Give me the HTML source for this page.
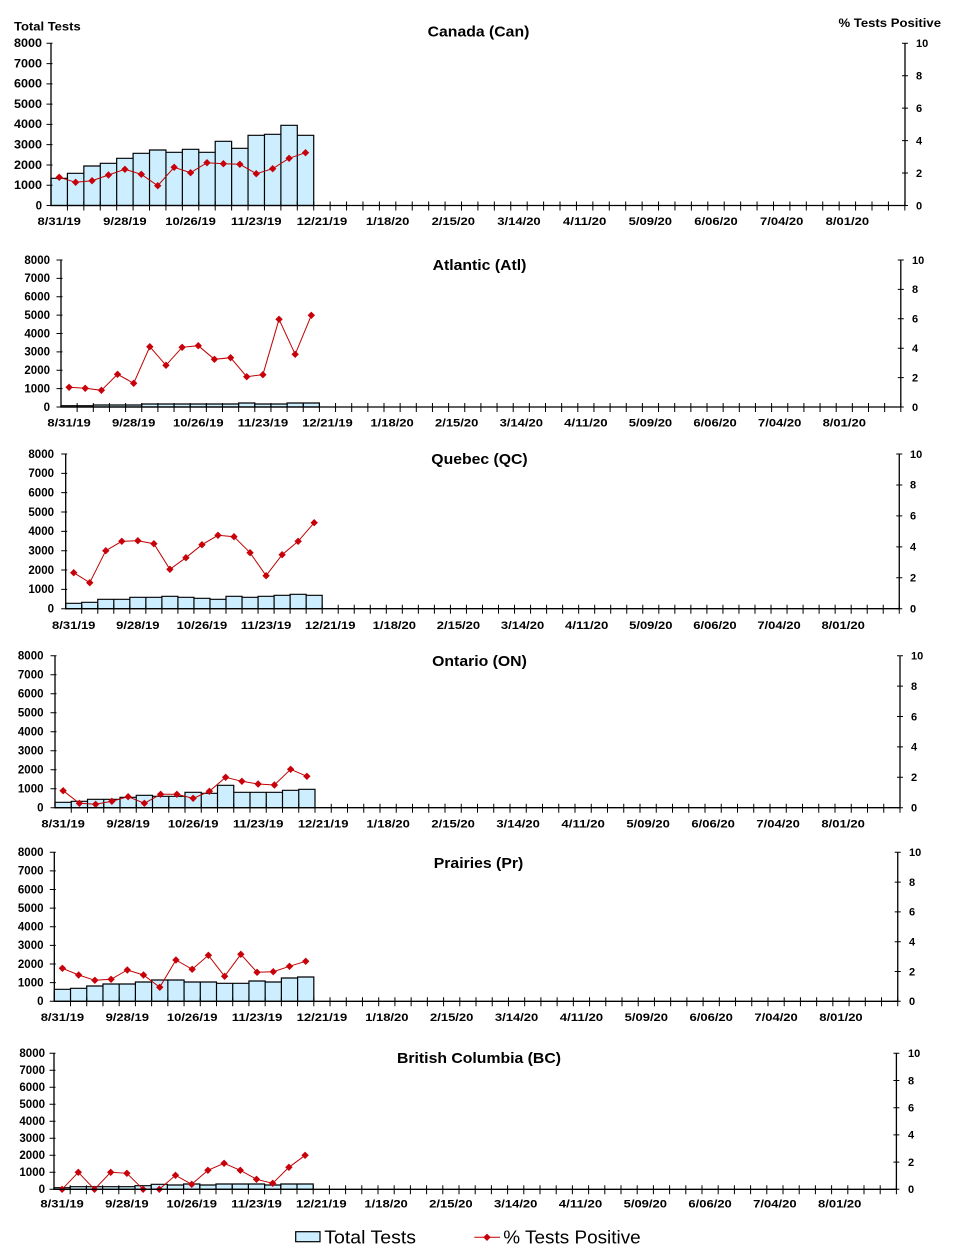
<!DOCTYPE html>
<html><head><meta charset="utf-8"><style>
html,body{margin:0;padding:0;background:#fff}
svg{display:block}
text{font-family:"Liberation Sans",Arial,sans-serif;fill:#000}
.a{font-size:11px;font-weight:bold}
.l{text-anchor:end;font-size:11.5px}
.x{text-anchor:middle}
.ti{font-size:15px;font-weight:bold;text-anchor:middle}
.h{font-size:12px;font-weight:bold}
.lg{font-size:18.5px}
.bar{fill:#cceeff;stroke:#000;stroke-width:1.2;stroke-linejoin:miter}
.ln{fill:none;stroke:#c00000;stroke-width:1;marker-start:url(#dm);marker-mid:url(#dm);marker-end:url(#dm)}
.ax{stroke:#000;stroke-width:1.3;fill:none}
.tk{stroke:#000;fill:none}
</style></head><body>
<svg width="959" height="1260" viewBox="0 0 959 1260" xmlns="http://www.w3.org/2000/svg">
<defs>
<marker id="dm" viewBox="-4 -4 8 8" refX="0" refY="0" markerWidth="8" markerHeight="8" markerUnits="userSpaceOnUse" orient="0"><path d="M0,-3.7L3.7,0L0,3.7L-3.7,0Z" fill="#c8000a"/></marker>
</defs>
<rect width="959" height="1260" fill="#fff"/>

<!-- ============ Canada ============ -->
<text class="h" x="14" y="30.5" textLength="66.7" lengthAdjust="spacingAndGlyphs">Total Tests</text>
<text class="h" x="838.5" y="27" textLength="102.5" lengthAdjust="spacingAndGlyphs">% Tests Positive</text>
<text class="ti" x="478.5" y="36.7" textLength="101.7" lengthAdjust="spacingAndGlyphs">Canada (Can)</text>
<path class="bar" d="M51,205.5V178.3h16.42V205.5V173.3h16.42V205.5V166h16.42V205.5V163.3h16.42V205.5V158.3h16.42V205.5V153.3h16.42V205.5V150h16.42V205.5V152.3h16.42V205.5V149.3h16.42V205.5V152.3h16.42V205.5V141.3h16.42V205.5V148.3h16.42V205.5V135.3h16.42V205.5V134.3h16.42V205.5V125.3h16.42V205.5V135.3h16.42V205.5Z"/>
<path class="ln" d="M59.21,177.3L75.63,182.3L92.05,180.7L108.47,175L124.89,169.3L141.31,174.3L157.73,185.7L174.15,167.3L190.57,172.7L206.99,162.7L223.41,163.7L239.83,164.3L256.25,173.7L272.67,168.7L289.09,158.3L305.51,152.7"/>
<path class="ax" d="M51,43.3V205.5H905V43.3"/>
<line class="tk" x1="66.92" y1="206" x2="905.5" y2="206" stroke-width="9" stroke-dasharray="1 15.42"/>
<line class="tk" x1="49.5" y1="42.8" x2="49.5" y2="206" stroke-width="6" stroke-dasharray="1 19.275"/>
<line class="tk" x1="905" y1="42.8" x2="905" y2="206" stroke-width="6" stroke-dasharray="1 31.44"/>
<g class="a l">
<text x="42" y="209.3">0</text><text x="42" y="189" textLength="28" lengthAdjust="spacingAndGlyphs">1000</text><text x="42" y="168.8" textLength="28" lengthAdjust="spacingAndGlyphs">2000</text><text x="42" y="148.5" textLength="28" lengthAdjust="spacingAndGlyphs">3000</text><text x="42" y="128.2" textLength="28" lengthAdjust="spacingAndGlyphs">4000</text><text x="42" y="107.9" textLength="28" lengthAdjust="spacingAndGlyphs">5000</text><text x="42" y="87.7" textLength="28" lengthAdjust="spacingAndGlyphs">6000</text><text x="42" y="67.4" textLength="28" lengthAdjust="spacingAndGlyphs">7000</text><text x="42" y="47.1" textLength="28" lengthAdjust="spacingAndGlyphs">8000</text>
</g>
<g class="a">
<text x="916" y="209.3">0</text><text x="916" y="176.9">2</text><text x="916" y="144.4">4</text><text x="916" y="112">6</text><text x="916" y="79.5">8</text><text x="916" y="47.1">10</text>
</g>
<g class="a x">
<text x="59.21" y="225" textLength="43.4" lengthAdjust="spacingAndGlyphs">8/31/19</text>
<text x="124.89" y="225" textLength="43.4" lengthAdjust="spacingAndGlyphs">9/28/19</text>
<text x="190.57" y="225" textLength="50.6" lengthAdjust="spacingAndGlyphs">10/26/19</text>
<text x="256.25" y="225" textLength="50.6" lengthAdjust="spacingAndGlyphs">11/23/19</text>
<text x="321.93" y="225" textLength="50.6" lengthAdjust="spacingAndGlyphs">12/21/19</text>
<text x="387.61" y="225" textLength="43.4" lengthAdjust="spacingAndGlyphs">1/18/20</text>
<text x="453.29" y="225" textLength="43.4" lengthAdjust="spacingAndGlyphs">2/15/20</text>
<text x="518.97" y="225" textLength="43.4" lengthAdjust="spacingAndGlyphs">3/14/20</text>
<text x="584.65" y="225" textLength="43.4" lengthAdjust="spacingAndGlyphs">4/11/20</text>
<text x="650.33" y="225" textLength="43.4" lengthAdjust="spacingAndGlyphs">5/09/20</text>
<text x="716.01" y="225" textLength="43.4" lengthAdjust="spacingAndGlyphs">6/06/20</text>
<text x="781.69" y="225" textLength="43.4" lengthAdjust="spacingAndGlyphs">7/04/20</text>
<text x="847.37" y="225" textLength="43.4" lengthAdjust="spacingAndGlyphs">8/01/20</text>
</g>

<!-- ============ Atlantic ============ -->
<text class="ti" x="479.5" y="270" textLength="93.8" lengthAdjust="spacingAndGlyphs">Atlantic (Atl)</text>
<path class="bar" d="M61,407V405.7h16.15V407V405.7h16.15V407V405h16.15V407V405h16.15V407V405h16.15V407V404h16.15V407V404h16.15V407V404h16.15V407V404h16.15V407V404h16.15V407V404h16.15V407V403h16.15V407V404h16.15V407V404h16.15V407V403h16.15V407V403h16.15V407Z"/>
<path class="ln" d="M69.08,387.3L85.23,388.3L101.38,390.3L117.53,374.3L133.68,383.3L149.83,346.7L165.98,365.3L182.13,347.3L198.28,345.7L214.43,359.3L230.58,357.7L246.73,376.7L262.88,374.7L279.03,319.3L295.18,354.3L311.33,315.3"/>
<path class="ax" d="M61,260V407H900.8V260"/>
<line class="tk" x1="76.65" y1="407.5" x2="901.3" y2="407.5" stroke-width="9" stroke-dasharray="1 15.15"/>
<line class="tk" x1="59.5" y1="259.5" x2="59.5" y2="407.5" stroke-width="6" stroke-dasharray="1 17.375"/>
<line class="tk" x1="900.8" y1="259.5" x2="900.8" y2="407.5" stroke-width="6" stroke-dasharray="1 28.4"/>
<g class="a l">
<text x="50" y="410.8">0</text><text x="50" y="392.4">1000</text><text x="50" y="374.1">2000</text><text x="50" y="355.7">3000</text><text x="50" y="337.3">4000</text><text x="50" y="318.9">5000</text><text x="50" y="300.6">6000</text><text x="50" y="282.2">7000</text><text x="50" y="263.8">8000</text>
</g>
<g class="a">
<text x="912" y="410.8">0</text><text x="912" y="381.4">2</text><text x="912" y="352">4</text><text x="912" y="322.6">6</text><text x="912" y="293.2">8</text><text x="912" y="263.8">10</text>
</g>
<g class="a x">
<text x="69.08" y="426.5" textLength="43.4" lengthAdjust="spacingAndGlyphs">8/31/19</text>
<text x="133.68" y="426.5" textLength="43.4" lengthAdjust="spacingAndGlyphs">9/28/19</text>
<text x="198.28" y="426.5" textLength="50.6" lengthAdjust="spacingAndGlyphs">10/26/19</text>
<text x="262.88" y="426.5" textLength="50.6" lengthAdjust="spacingAndGlyphs">11/23/19</text>
<text x="327.48" y="426.5" textLength="50.6" lengthAdjust="spacingAndGlyphs">12/21/19</text>
<text x="392.08" y="426.5" textLength="43.4" lengthAdjust="spacingAndGlyphs">1/18/20</text>
<text x="456.68" y="426.5" textLength="43.4" lengthAdjust="spacingAndGlyphs">2/15/20</text>
<text x="521.28" y="426.5" textLength="43.4" lengthAdjust="spacingAndGlyphs">3/14/20</text>
<text x="585.88" y="426.5" textLength="43.4" lengthAdjust="spacingAndGlyphs">4/11/20</text>
<text x="650.48" y="426.5" textLength="43.4" lengthAdjust="spacingAndGlyphs">5/09/20</text>
<text x="715.08" y="426.5" textLength="43.4" lengthAdjust="spacingAndGlyphs">6/06/20</text>
<text x="779.68" y="426.5" textLength="43.4" lengthAdjust="spacingAndGlyphs">7/04/20</text>
<text x="844.28" y="426.5" textLength="43.4" lengthAdjust="spacingAndGlyphs">8/01/20</text>
</g>

<!-- ============ Quebec ============ -->
<text class="ti" x="479.5" y="464" textLength="96.4" lengthAdjust="spacingAndGlyphs">Quebec (QC)</text>
<path class="bar" d="M65.7,608.7V603.3h16.03V608.7V602.3h16.03V608.7V599.3h16.03V608.7V599.3h16.03V608.7V597.3h16.03V608.7V597.3h16.03V608.7V596.3h16.03V608.7V597.3h16.03V608.7V598.3h16.03V608.7V599.3h16.03V608.7V596.3h16.03V608.7V597.3h16.03V608.7V596.3h16.03V608.7V595.3h16.03V608.7V594.3h16.03V608.7V595.3h16.03V608.7Z"/>
<path class="ln" d="M73.72,572.7L89.75,582.7L105.78,550.7L121.81,541.3L137.84,540.7L153.87,543.7L169.9,569.3L185.93,557.7L201.96,544.7L217.99,535.3L234.02,536.7L250.05,552.7L266.08,575.7L282.11,554.7L298.14,541.3L314.17,522.7"/>
<path class="ax" d="M65.7,454V608.7H899.26V454"/>
<line class="tk" x1="81.23" y1="609.2" x2="899.76" y2="609.2" stroke-width="9" stroke-dasharray="1 15.03"/>
<line class="tk" x1="64.2" y1="453.5" x2="64.2" y2="609.2" stroke-width="6" stroke-dasharray="1 18.3375"/>
<line class="tk" x1="899.26" y1="453.5" x2="899.26" y2="609.2" stroke-width="6" stroke-dasharray="1 29.94"/>
<g class="a l">
<text x="54" y="612.5">0</text><text x="54" y="593.2">1000</text><text x="54" y="573.8">2000</text><text x="54" y="554.5">3000</text><text x="54" y="535.2">4000</text><text x="54" y="515.8">5000</text><text x="54" y="496.5">6000</text><text x="54" y="477.1">7000</text><text x="54" y="457.8">8000</text>
</g>
<g class="a">
<text x="910" y="612.5">0</text><text x="910" y="581.6">2</text><text x="910" y="550.6">4</text><text x="910" y="519.7">6</text><text x="910" y="488.7">8</text><text x="910" y="457.8">10</text>
</g>
<g class="a x">
<text x="73.72" y="629" textLength="43.4" lengthAdjust="spacingAndGlyphs">8/31/19</text>
<text x="137.84" y="629" textLength="43.4" lengthAdjust="spacingAndGlyphs">9/28/19</text>
<text x="201.96" y="629" textLength="50.6" lengthAdjust="spacingAndGlyphs">10/26/19</text>
<text x="266.08" y="629" textLength="50.6" lengthAdjust="spacingAndGlyphs">11/23/19</text>
<text x="330.2" y="629" textLength="50.6" lengthAdjust="spacingAndGlyphs">12/21/19</text>
<text x="394.32" y="629" textLength="43.4" lengthAdjust="spacingAndGlyphs">1/18/20</text>
<text x="458.44" y="629" textLength="43.4" lengthAdjust="spacingAndGlyphs">2/15/20</text>
<text x="522.56" y="629" textLength="43.4" lengthAdjust="spacingAndGlyphs">3/14/20</text>
<text x="586.68" y="629" textLength="43.4" lengthAdjust="spacingAndGlyphs">4/11/20</text>
<text x="650.8" y="629" textLength="43.4" lengthAdjust="spacingAndGlyphs">5/09/20</text>
<text x="714.92" y="629" textLength="43.4" lengthAdjust="spacingAndGlyphs">6/06/20</text>
<text x="779.04" y="629" textLength="43.4" lengthAdjust="spacingAndGlyphs">7/04/20</text>
<text x="843.16" y="629" textLength="43.4" lengthAdjust="spacingAndGlyphs">8/01/20</text>
</g>

<!-- ============ Ontario ============ -->
<text class="ti" x="479.5" y="666" textLength="94.7" lengthAdjust="spacingAndGlyphs">Ontario (ON)</text>
<path class="bar" d="M55,807.7V802.3h16.25V807.7V801.3h16.25V807.7V799.3h16.25V807.7V799.3h16.25V807.7V797.3h16.25V807.7V795.3h16.25V807.7V796.3h16.25V807.7V796.3h16.25V807.7V792.3h16.25V807.7V793.3h16.25V807.7V785.3h16.25V807.7V792.3h16.25V807.7V792.3h16.25V807.7V792.3h16.25V807.7V790.3h16.25V807.7V789.3h16.25V807.7Z"/>
<path class="ln" d="M63.13,790.7L79.38,803.3L95.63,804.3L111.88,801.3L128.13,796.7L144.38,803.3L160.63,794.3L176.88,794.3L193.13,798.3L209.38,791.3L225.63,777.3L241.88,781.3L258.13,784L274.38,785L290.63,769.3L306.88,776.3"/>
<path class="ax" d="M55,655.7V807.7H900V655.7"/>
<line class="tk" x1="70.75" y1="808.2" x2="900.5" y2="808.2" stroke-width="9" stroke-dasharray="1 15.25"/>
<line class="tk" x1="53.5" y1="655.2" x2="53.5" y2="808.2" stroke-width="6" stroke-dasharray="1 18"/>
<line class="tk" x1="900" y1="655.2" x2="900" y2="808.2" stroke-width="6" stroke-dasharray="1 29.4"/>
<g class="a l">
<text x="43.5" y="811.5">0</text><text x="43.5" y="792.5">1000</text><text x="43.5" y="773.5">2000</text><text x="43.5" y="754.5">3000</text><text x="43.5" y="735.5">4000</text><text x="43.5" y="716.5">5000</text><text x="43.5" y="697.5">6000</text><text x="43.5" y="678.5">7000</text><text x="43.5" y="659.5">8000</text>
</g>
<g class="a">
<text x="911" y="811.5">0</text><text x="911" y="781.1">2</text><text x="911" y="750.7">4</text><text x="911" y="720.3">6</text><text x="911" y="689.9">8</text><text x="911" y="659.5">10</text>
</g>
<g class="a x">
<text x="63.13" y="827.5" textLength="43.4" lengthAdjust="spacingAndGlyphs">8/31/19</text>
<text x="128.13" y="827.5" textLength="43.4" lengthAdjust="spacingAndGlyphs">9/28/19</text>
<text x="193.13" y="827.5" textLength="50.6" lengthAdjust="spacingAndGlyphs">10/26/19</text>
<text x="258.13" y="827.5" textLength="50.6" lengthAdjust="spacingAndGlyphs">11/23/19</text>
<text x="323.13" y="827.5" textLength="50.6" lengthAdjust="spacingAndGlyphs">12/21/19</text>
<text x="388.13" y="827.5" textLength="43.4" lengthAdjust="spacingAndGlyphs">1/18/20</text>
<text x="453.13" y="827.5" textLength="43.4" lengthAdjust="spacingAndGlyphs">2/15/20</text>
<text x="518.13" y="827.5" textLength="43.4" lengthAdjust="spacingAndGlyphs">3/14/20</text>
<text x="583.13" y="827.5" textLength="43.4" lengthAdjust="spacingAndGlyphs">4/11/20</text>
<text x="648.13" y="827.5" textLength="43.4" lengthAdjust="spacingAndGlyphs">5/09/20</text>
<text x="713.13" y="827.5" textLength="43.4" lengthAdjust="spacingAndGlyphs">6/06/20</text>
<text x="778.13" y="827.5" textLength="43.4" lengthAdjust="spacingAndGlyphs">7/04/20</text>
<text x="843.13" y="827.5" textLength="43.4" lengthAdjust="spacingAndGlyphs">8/01/20</text>
</g>

<!-- ============ Prairies ============ -->
<text class="ti" x="478.5" y="868" textLength="89.5" lengthAdjust="spacingAndGlyphs">Prairies (Pr)</text>
<path class="bar" d="M54.3,1001.3V989.3h16.22V1001.3V988.3h16.22V1001.3V986h16.22V1001.3V984h16.22V1001.3V984h16.22V1001.3V982h16.22V1001.3V980h16.22V1001.3V980h16.22V1001.3V982h16.22V1001.3V982h16.22V1001.3V983.3h16.22V1001.3V983.3h16.22V1001.3V981h16.22V1001.3V982h16.22V1001.3V978h16.22V1001.3V977h16.22V1001.3Z"/>
<path class="ln" d="M62.41,968.3L78.63,975L94.85,980.3L111.07,979.3L127.29,970L143.51,975L159.73,987.3L175.95,960L192.17,969.3L208.39,955.3L224.61,976.3L240.83,954.3L257.05,972.3L273.27,971.7L289.49,966.3L305.71,961.3"/>
<path class="ax" d="M54.3,852.3V1001.3H897.74V852.3"/>
<line class="tk" x1="70.02" y1="1001.8" x2="898.24" y2="1001.8" stroke-width="9" stroke-dasharray="1 15.22"/>
<line class="tk" x1="52.8" y1="851.8" x2="52.8" y2="1001.8" stroke-width="6" stroke-dasharray="1 17.625"/>
<line class="tk" x1="897.74" y1="851.8" x2="897.74" y2="1001.8" stroke-width="6" stroke-dasharray="1 28.8"/>
<g class="a l">
<text x="43.5" y="1005.1">0</text><text x="43.5" y="986.5">1000</text><text x="43.5" y="967.9">2000</text><text x="43.5" y="949.2">3000</text><text x="43.5" y="930.6">4000</text><text x="43.5" y="912">5000</text><text x="43.5" y="893.4">6000</text><text x="43.5" y="874.7">7000</text><text x="43.5" y="856.1">8000</text>
</g>
<g class="a">
<text x="909" y="1005.1">0</text><text x="909" y="975.3">2</text><text x="909" y="945.5">4</text><text x="909" y="915.7">6</text><text x="909" y="885.9">8</text><text x="909" y="856.1">10</text>
</g>
<g class="a x">
<text x="62.41" y="1021" textLength="43.4" lengthAdjust="spacingAndGlyphs">8/31/19</text>
<text x="127.29" y="1021" textLength="43.4" lengthAdjust="spacingAndGlyphs">9/28/19</text>
<text x="192.17" y="1021" textLength="50.6" lengthAdjust="spacingAndGlyphs">10/26/19</text>
<text x="257.05" y="1021" textLength="50.6" lengthAdjust="spacingAndGlyphs">11/23/19</text>
<text x="321.93" y="1021" textLength="50.6" lengthAdjust="spacingAndGlyphs">12/21/19</text>
<text x="386.81" y="1021" textLength="43.4" lengthAdjust="spacingAndGlyphs">1/18/20</text>
<text x="451.69" y="1021" textLength="43.4" lengthAdjust="spacingAndGlyphs">2/15/20</text>
<text x="516.57" y="1021" textLength="43.4" lengthAdjust="spacingAndGlyphs">3/14/20</text>
<text x="581.45" y="1021" textLength="43.4" lengthAdjust="spacingAndGlyphs">4/11/20</text>
<text x="646.33" y="1021" textLength="43.4" lengthAdjust="spacingAndGlyphs">5/09/20</text>
<text x="711.21" y="1021" textLength="43.4" lengthAdjust="spacingAndGlyphs">6/06/20</text>
<text x="776.09" y="1021" textLength="43.4" lengthAdjust="spacingAndGlyphs">7/04/20</text>
<text x="840.97" y="1021" textLength="43.4" lengthAdjust="spacingAndGlyphs">8/01/20</text>
</g>

<!-- ============ British Columbia ============ -->
<text class="ti" x="479" y="1063" textLength="164" lengthAdjust="spacingAndGlyphs">British Columbia (BC)</text>
<path class="bar" d="M54,1189.3V1187.7h16.2V1189.3V1186.7h16.2V1189.3V1186.7h16.2V1189.3V1186.7h16.2V1189.3V1186.7h16.2V1189.3V1185.7h16.2V1189.3V1184.3h16.2V1189.3V1185h16.2V1189.3V1184h16.2V1189.3V1185h16.2V1189.3V1184h16.2V1189.3V1184h16.2V1189.3V1184h16.2V1189.3V1185h16.2V1189.3V1184h16.2V1189.3V1184h16.2V1189.3Z"/>
<path class="ln" d="M62.1,1189.3L78.3,1172.3L94.5,1189.3L110.7,1172.3L126.9,1173.3L143.1,1189.3L159.3,1189.3L175.5,1175.3L191.7,1184.3L207.9,1170.3L224.1,1163.3L240.3,1170.3L256.5,1179.3L272.7,1183.3L288.9,1167.3L305.1,1155.3"/>
<path class="ax" d="M54,1053.3V1189.3H896.4V1053.3"/>
<line class="tk" x1="69.7" y1="1189.8" x2="896.9" y2="1189.8" stroke-width="9" stroke-dasharray="1 15.2"/>
<line class="tk" x1="52.5" y1="1052.8" x2="52.5" y2="1189.8" stroke-width="6" stroke-dasharray="1 16"/>
<line class="tk" x1="896.4" y1="1052.8" x2="896.4" y2="1189.8" stroke-width="6" stroke-dasharray="1 26.2"/>
<g class="a l">
<text x="45" y="1193.1">0</text><text x="45" y="1176.1">1000</text><text x="45" y="1159.1">2000</text><text x="45" y="1142.1">3000</text><text x="45" y="1125.1">4000</text><text x="45" y="1108.1">5000</text><text x="45" y="1091.1">6000</text><text x="45" y="1074.1">7000</text><text x="45" y="1057.1">8000</text>
</g>
<g class="a">
<text x="908" y="1193.1">0</text><text x="908" y="1165.9">2</text><text x="908" y="1138.7">4</text><text x="908" y="1111.5">6</text><text x="908" y="1084.3">8</text><text x="908" y="1057.1">10</text>
</g>
<g class="a x">
<text x="62.1" y="1207.5" textLength="43.4" lengthAdjust="spacingAndGlyphs">8/31/19</text>
<text x="126.9" y="1207.5" textLength="43.4" lengthAdjust="spacingAndGlyphs">9/28/19</text>
<text x="191.7" y="1207.5" textLength="50.6" lengthAdjust="spacingAndGlyphs">10/26/19</text>
<text x="256.5" y="1207.5" textLength="50.6" lengthAdjust="spacingAndGlyphs">11/23/19</text>
<text x="321.3" y="1207.5" textLength="50.6" lengthAdjust="spacingAndGlyphs">12/21/19</text>
<text x="386.1" y="1207.5" textLength="43.4" lengthAdjust="spacingAndGlyphs">1/18/20</text>
<text x="450.9" y="1207.5" textLength="43.4" lengthAdjust="spacingAndGlyphs">2/15/20</text>
<text x="515.7" y="1207.5" textLength="43.4" lengthAdjust="spacingAndGlyphs">3/14/20</text>
<text x="580.5" y="1207.5" textLength="43.4" lengthAdjust="spacingAndGlyphs">4/11/20</text>
<text x="645.3" y="1207.5" textLength="43.4" lengthAdjust="spacingAndGlyphs">5/09/20</text>
<text x="710.1" y="1207.5" textLength="43.4" lengthAdjust="spacingAndGlyphs">6/06/20</text>
<text x="774.9" y="1207.5" textLength="43.4" lengthAdjust="spacingAndGlyphs">7/04/20</text>
<text x="839.7" y="1207.5" textLength="43.4" lengthAdjust="spacingAndGlyphs">8/01/20</text>
</g>

<!-- ============ Legend ============ -->
<rect x="295.7" y="1231.7" width="24.3" height="10" fill="#cceeff" stroke="#000" stroke-width="1.2"/>
<text class="lg" x="324.3" y="1243.5" textLength="91.7" lengthAdjust="spacingAndGlyphs">Total Tests</text>
<line x1="474.3" y1="1237.3" x2="500" y2="1237.3" stroke="#c00000" stroke-width="1"/>
<path d="M487,1233.6L490.7,1237.3L487,1241L483.3,1237.3Z" fill="#c8000a"/>
<text class="lg" x="503.3" y="1243.5" textLength="137.4" lengthAdjust="spacingAndGlyphs">% Tests Positive</text>
</svg>
</body></html>
